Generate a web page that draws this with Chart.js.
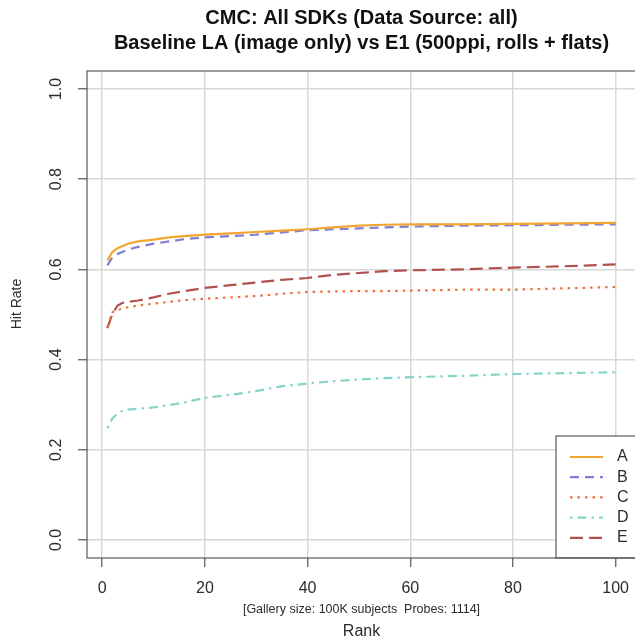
<!DOCTYPE html>
<html>
<head>
<meta charset="utf-8">
<script src="https://cdn.jsdelivr.net/npm/chart.js@4/dist/chart.umd.min.js"></script>
<style>
    html, body { margin: 0; padding: 0; background: #fff; overflow: hidden; }
    #wrap { width: 635px; height: 641px; overflow: hidden; }
    canvas { display: block; }
</style>
</head>
<body>
<div id="wrap"><canvas id="cmc" width="640" height="641"></canvas></div>
<script>
const RANKS = [1, 2, 3, 4, 5, 7, 10, 13, 16, 20, 25, 30, 35, 40, 45, 50, 55, 60, 70, 80, 90, 100];

const HIT_A = [0.620, 0.639, 0.647, 0.652, 0.657, 0.662, 0.666, 0.671, 0.674, 0.677, 0.680, 0.683, 0.686, 0.689, 0.693, 0.697, 0.699, 0.700, 0.700, 0.701, 0.702, 0.703];
const HIT_B = [0.609, 0.627, 0.634, 0.639, 0.644, 0.650, 0.657, 0.662, 0.667, 0.671, 0.674, 0.677, 0.682, 0.687, 0.689, 0.691, 0.693, 0.695, 0.697, 0.698, 0.699, 0.700];
const HIT_C = [0.472, 0.505, 0.510, 0.513, 0.516, 0.520, 0.524, 0.528, 0.532, 0.535, 0.538, 0.541, 0.546, 0.550, 0.551, 0.552, 0.552, 0.553, 0.555, 0.555, 0.558, 0.561];
const HIT_D = [0.248, 0.270, 0.280, 0.287, 0.289, 0.291, 0.294, 0.299, 0.305, 0.315, 0.322, 0.330, 0.341, 0.347, 0.352, 0.356, 0.359, 0.361, 0.364, 0.368, 0.370, 0.372];
const HIT_E = [0.470, 0.502, 0.520, 0.526, 0.528, 0.531, 0.538, 0.546, 0.552, 0.559, 0.565, 0.571, 0.577, 0.581, 0.588, 0.592, 0.596, 0.598, 0.600, 0.604, 0.607, 0.611];

const SERIES_NAMES = ['A', 'B', 'C', 'D', 'E'];
const X_TICKS = [0, 20, 40, 60, 80, 100];
const Y_TICKS = [0, 0.2, 0.4, 0.6, 0.8, 1.0];

const TITLE_LINES = [
    'CMC: All SDKs (Data Source: all)',
    'Baseline LA (image only) vs E1 (500ppi, rolls + flats)'
];
const SUBTITLE = '[Gallery size: 100K subjects  Probes: 1114]';
const X_TITLE = 'Rank';
const Y_TITLE = 'Hit Rate';

const FONT = '"Liberation Sans", Arial, Helvetica, sans-serif';

const STYLES = [
    { color: '#f2a632', dash: [] },
    { color: '#7f7fd3', dash: [9, 6] },
    { color: '#f06e3e', dash: [2.5, 5] },
    { color: '#86d3ca', dash: [2.5, 5, 9, 5] },
    { color: '#b2504e', dash: [13, 6] }
];

// R pads the data range by 4% on each side
const X_MIN = 1 - 99 * 0.04;
const X_MAX = 100 + 99 * 0.04;
const Y_MIN = -0.04;
const Y_MAX = 1.04;

function toPoints(values) {
    return values.map((y, i) => ({ x: RANKS[i], y }));
}

const datasets = [HIT_A, HIT_B, HIT_C, HIT_D, HIT_E].map((values, i) => ({
    label: SERIES_NAMES[i],
    data: toPoints(values),
    borderColor: STYLES[i].color,
    borderDash: STYLES[i].dash,
    borderWidth: 2.2,
    pointRadius: 0,
    pointHoverRadius: 0,
    tension: 0,
    fill: false
}));

// frame, tick labels, titles
const rAxesPlugin = {
    id: 'rAxes',
    afterDraw(chart) {
        const { ctx, chartArea: area, scales } = chart;
        ctx.save();

        ctx.strokeStyle = '#5a5a5a';
        ctx.lineWidth = 1.2;
        ctx.strokeRect(area.left, area.top, area.right - area.left, area.bottom - area.top);

        ctx.fillStyle = '#2b2b2b';
        ctx.font = '16px ' + FONT;
        ctx.textAlign = 'center';
        ctx.textBaseline = 'middle';
        X_TICKS.forEach(v => {
            ctx.fillText(String(v), scales.x.getPixelForValue(v), 589);
        });

        Y_TICKS.forEach(v => {
            const py = scales.y.getPixelForValue(v);
            ctx.save();
            ctx.translate(57, py);
            ctx.rotate(-Math.PI / 2);
            ctx.fillText(v.toFixed(1), 0, 0);
            ctx.restore();
        });

        const midX = (area.left + area.right) / 2;

        ctx.font = '16px ' + FONT;
        ctx.fillText(X_TITLE, midX, 632);
        ctx.font = '14px ' + FONT;
        ctx.save();
        ctx.translate(17, 304);
        ctx.rotate(-Math.PI / 2);
        ctx.fillText(Y_TITLE, 0, 0);
        ctx.restore();

        ctx.font = '12.5px ' + FONT;
        ctx.fillText(SUBTITLE, midX, 610);

        ctx.fillStyle = '#111';
        ctx.font = 'bold 20px ' + FONT;
        ctx.fillText(TITLE_LINES[0], midX, 18);
        ctx.fillText(TITLE_LINES[1], midX, 43);

        ctx.restore();
    }
};

// boxed legend in the bottom right corner
const rLegendPlugin = {
    id: 'rLegend',
    afterDatasetsDraw(chart) {
        const { ctx, chartArea: area } = chart;
        const left = 556;
        const top = 436;
        ctx.save();
        ctx.fillStyle = '#fff';
        ctx.fillRect(left, top, chart.width - left, area.bottom - top);
        ctx.strokeStyle = '#5a5a5a';
        ctx.lineWidth = 1.2;
        ctx.strokeRect(left, top, chart.width - left + 10, area.bottom - top);

        ctx.font = '16px ' + FONT;
        ctx.textAlign = 'left';
        ctx.textBaseline = 'middle';
        chart.data.datasets.forEach((ds, i) => {
            const y = 457 + i * 20.2;
            ctx.strokeStyle = ds.borderColor;
            ctx.lineWidth = ds.borderWidth;
            ctx.setLineDash(ds.borderDash);
            ctx.beginPath();
            ctx.moveTo(570, y);
            ctx.lineTo(603, y);
            ctx.stroke();
            ctx.setLineDash([]);
            ctx.fillStyle = '#2b2b2b';
            ctx.fillText(ds.label, 617, y);
        });
        ctx.restore();
    }
};

new Chart(document.getElementById('cmc').getContext('2d'), {
    type: 'line',
    data: { datasets },
    plugins: [rLegendPlugin, rAxesPlugin],
    options: {
        responsive: false,
        animation: false,
        devicePixelRatio: 1,
        layout: {
            padding: { top: 71, right: 4, left: 0, bottom: 0 }
        },
        plugins: {
            legend: { display: false },
            tooltip: { enabled: false },
            title: { display: false }
        },
        scales: {
            x: {
                type: 'linear',
                min: X_MIN,
                max: X_MAX,
                afterBuildTicks: s => { s.ticks = X_TICKS.map(value => ({ value })); },
                afterFit: s => { s.height = 83; },
                ticks: { display: false },
                border: { display: false },
                grid: {
                    color: '#d8d8d8',
                    lineWidth: 1.5,
                    drawTicks: true,
                    tickLength: 9,
                    tickColor: '#555',
                    tickWidth: 1.2
                }
            },
            y: {
                type: 'linear',
                min: Y_MIN,
                max: Y_MAX,
                afterBuildTicks: s => { s.ticks = Y_TICKS.map(value => ({ value })); },
                afterFit: s => { s.width = 87; },
                ticks: { display: false },
                border: { display: false },
                grid: {
                    color: '#d8d8d8',
                    lineWidth: 1.5,
                    drawTicks: true,
                    tickLength: 9,
                    tickColor: '#555',
                    tickWidth: 1.2
                }
            }
        }
    }
});
</script>
</body>
</html>
